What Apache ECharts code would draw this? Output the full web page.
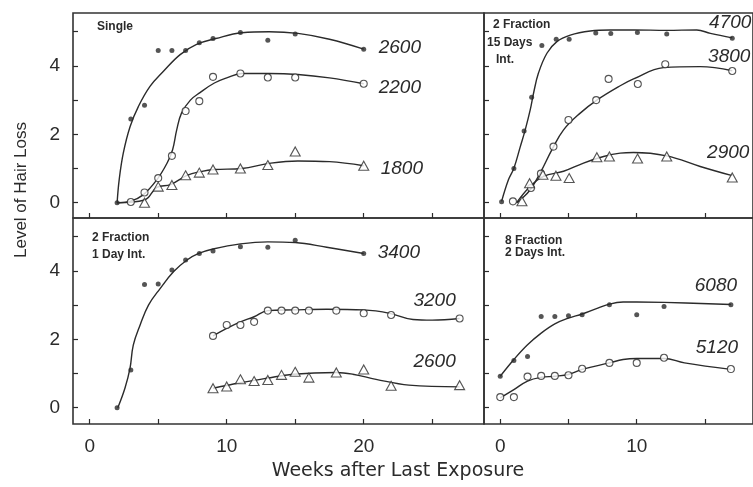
<!DOCTYPE html>
<html>
<head>
<meta charset="utf-8">
<title>Level of Hair Loss</title>
<script src="https://cdn.jsdelivr.net/npm/echarts@6/dist/echarts.min.js"></script>
<style>body{margin:0;background:#fff}</style>
</head>
<body>
<div id="main" style="width:753px;height:487px"></div>
<script>
// [weeks after last exposure, level of hair loss]
// Single
var single2600 = [[2,0],[3,2.45],[4,2.85],[5,4.45],[6,4.45],[7,4.45],[8,4.68],[9,4.8],[11,4.98],[13,4.75],[15,4.93],[20,4.49]];
var single2600Fit = [[2,0],[2.15,0.67],[2.45,1.45],[2.95,2.23],[3.55,2.81],[4.4,3.4],[5.4,3.85],[6.6,4.33],[7.8,4.63],[9.2,4.8],[11.1,4.97],[13.1,5.0],[15.2,4.95],[17.5,4.78],[20,4.49]];
var single2200 = [[3,0.02],[4,0.3],[5,0.72],[6,1.37],[7,2.68],[8,2.97],[9,3.68],[11,3.78],[13,3.66],[15,3.66],[20,3.48]];
var single2200Fit = [[2,0],[2.95,0.04],[3.9,0.23],[4.9,0.67],[5.65,1.16],[6.05,1.55],[6.35,2.13],[6.7,2.62],[7.35,3.0],[8.05,3.22],[9.1,3.5],[10,3.65],[11.1,3.78],[13.1,3.78],[15.2,3.75],[17.5,3.65],[20,3.48]];
var single1800 = [[4,0],[5,0.47],[6,0.52],[7,0.8],[8,0.88],[9,0.97],[11,1.0],[13,1.1],[15,1.5],[20,1.08]];
var single1800Fit = [[2,0],[4,0.08],[4.9,0.45],[5.9,0.53],[7.1,0.8],[8.1,0.91],[9.1,0.97],[11.1,1.0],[13.1,1.15],[15.2,1.22],[17.5,1.2],[20,1.08]];

// 2 fraction, 15 days interval
var frac15d4700 = [[0.1,0.03],[1,1.0],[1.75,2.1],[2.3,3.08],[3.05,4.6],[4.1,4.78],[5.05,4.78],[7,4.96],[8.1,4.95],[10.05,4.98],[12.2,4.93],[17,4.81]];
var frac15d4700Fit = [[0.1,0.04],[0.6,0.67],[1,1.01],[1.47,1.64],[1.83,2.13],[2.2,2.72],[2.44,3.2],[2.8,3.79],[3.42,4.37],[4.15,4.71],[5.13,4.9],[6.6,5.02],[8.06,5.05],[9.8,5.05],[12.2,5.04],[14.4,5.05],[15.4,4.95],[17,4.82]];
var frac15d3800 = [[0.93,0.04],[2.25,0.43],[2.98,0.85],[3.9,1.64],[5,2.42],[7.03,3.0],[7.94,3.62],[10.08,3.47],[12.09,4.05],[17,3.85]];
var frac15d3800Fit = [[1.2,0],[1.5,0.09],[2.2,0.38],[2.93,0.87],[3.79,1.55],[4.64,2.13],[5.86,2.62],[7.08,3.0],[8.79,3.42],[9.77,3.62],[11.96,3.95],[14.65,3.98],[17,3.86]];
var frac15d2900 = [[1.59,0.04],[2.15,0.57],[3.13,0.82],[4.08,0.79],[5.05,0.72],[7.08,1.33],[8.0,1.35],[10.06,1.29],[12.2,1.35],[17,0.74]];
var frac15d2900Fit = [[1.2,0],[2.2,0.48],[3.17,0.77],[4.64,0.92],[6.1,1.16],[7.57,1.35],[8.79,1.45],[9.77,1.47],[12.2,1.37],[14.65,1.06],[17,0.79]];

// 2 fraction, 1 day interval
var frac1d3400 = [[2,0],[3,1.1],[4,3.6],[5,3.62],[6,4.03],[7,4.32],[8,4.51],[9,4.58],[11,4.71],[13,4.69],[15,4.9],[20,4.51]];
var frac1d3400Fit = [[2.05,0],[2.57,0.57],[2.94,1.15],[3.18,1.83],[3.68,2.42],[4.29,3.0],[5.15,3.49],[6.13,3.98],[7.1,4.32],[7.96,4.51],[9,4.64],[11,4.79],[13,4.85],[15,4.83],[17.3,4.69],[20,4.51]];
var frac1d3200 = [[9,2.1],[10,2.42],[11,2.42],[12,2.51],[13,2.84],[14,2.84],[15,2.84],[16,2.84],[18,2.84],[20,2.76],[22,2.71],[27,2.61]];
var frac1d3200Fit = [[9,2.1],[10,2.32],[11,2.51],[12,2.66],[13,2.84],[14.85,2.86],[17.3,2.88],[20,2.86],[21.9,2.76],[23.6,2.58],[25,2.56],[27,2.61]];
var frac1d2600 = [[9,0.57],[10,0.62],[11,0.83],[12,0.78],[13,0.81],[14,0.96],[15,1.05],[16,0.88],[18,1.03],[20,1.12],[22,0.64],[27,0.66]];
var frac1d2600Fit = [[9,0.57],[11,0.73],[12.9,0.86],[14.85,0.98],[18,1.03],[19.2,0.98],[20.9,0.83],[23.3,0.66],[27,0.61]];

// 8 fraction, 2 days interval
var frac2d6080 = [[0,0.92],[1,1.38],[2,1.5],[3,2.67],[4,2.67],[5,2.69],[6,2.72],[8,3.01],[10,2.72],[12,2.96],[16.9,3.01]];
var frac2d6080Fit = [[0,0.92],[1,1.41],[2,1.84],[3,2.18],[4,2.45],[5,2.62],[6,2.74],[7,2.89],[8,3.03],[9,3.09],[10,3.09],[12,3.08],[16.9,3.02]];
var frac2d5120 = [[0,0.31],[1,0.31],[2,0.91],[3,0.93],[4,0.93],[5,0.95],[6,1.14],[8,1.31],[10,1.31],[12,1.46],[16.9,1.13]];
var frac2d5120Fit = [[0,0.29],[1,0.53],[2,0.78],[3,0.89],[4,0.92],[5,0.97],[6,1.12],[8,1.31],[9,1.41],[10,1.44],[12,1.44],[13.5,1.31],[16.9,1.12]];

var panelTitles = [['Single'], ['2 Fraction', '15 Days', 'Int.'], ['2 Fraction', '1 Day Int.'], ['8 Fraction', '2 Days Int.']];
var xTicksLeft = [0, 5, 10, 15, 20, 25];
var xTicksRight = [0, 5, 10, 15];
var xLabelsLeft = [0, 10, 20];
var xLabelsRight = [0, 10];
var yTicks = [0, 1, 2, 3, 4, 5];
var yLabels = [0, 2, 4];

var ink = '#2b2b2b';
var myChart = echarts.init(document.getElementById('main'));

var grids = [
	{left: 73, top: 13, width: 411, height: 205},
	{left: 484, top: 13, width: 270, height: 205},
	{left: 73, top: 218, width: 411, height: 206},
	{left: 484, top: 218, width: 270, height: 206}
];
var xRange = [[-1.22, 28.78], [-1.19, 18.52], [-1.22, 28.78], [-1.19, 18.52]];
var yRange = [[-0.447, 5.547], [-0.447, 5.547], [-0.476, 5.547], [-0.476, 5.547]];

var marks = {
	dot: {symbol: 'circle', size: 5, style: {color: ink}},
	ring: {symbol: 'circle', size: 7, style: {color: '#fff', borderColor: ink, borderWidth: 1.1}},
	tri: {symbol: 'triangle', size: [10, 9], style: {color: '#fff', borderColor: ink, borderWidth: 1.1}}
};

// label offsets from the curve end (pixels)
var curves = [
	{g: 0, fit: single2600Fit, pts: single2600, mark: 'dot', dose: '2600', dx: 15, dy: -1, align: 'left'},
	{g: 0, fit: single2200Fit, pts: single2200, mark: 'ring', dose: '2200', dx: 15, dy: 4, align: 'left'},
	{g: 0, fit: single1800Fit, pts: single1800, mark: 'tri', dose: '1800', dx: 17, dy: 3, align: 'left'},
	{g: 1, fit: frac15d4700Fit, pts: frac15d4700, mark: 'dot', dose: '4700', dx: -2, dy: -15, align: 'center'},
	{g: 1, fit: frac15d3800Fit, pts: frac15d3800, mark: 'ring', dose: '3800', dx: -3, dy: -14, align: 'center'},
	{g: 1, fit: frac15d2900Fit, pts: frac15d2900, mark: 'tri', dose: '2900', dx: -4, dy: -23, align: 'center'},
	{g: 2, fit: frac1d3400Fit, pts: frac1d3400, mark: 'dot', dose: '3400', dx: 14, dy: -1, align: 'left'},
	{g: 2, fit: frac1d3200Fit, pts: frac1d3200, mark: 'ring', dose: '3200', dx: -25, dy: -18, align: 'center'},
	{g: 2, fit: frac1d2600Fit, pts: frac1d2600, mark: 'tri', dose: '2600', dx: -25, dy: -25, align: 'center'},
	{g: 3, fit: frac2d6080Fit, pts: frac2d6080, mark: 'dot', dose: '6080', dx: -15, dy: -19, align: 'center'},
	{g: 3, fit: frac2d5120Fit, pts: frac2d5120, mark: 'ring', dose: '5120', dx: -14, dy: -22, align: 'center'}
];

var series = [];
curves.forEach(function (c) {
	series.push({
		type: 'line', xAxisIndex: c.g, yAxisIndex: c.g, data: c.fit,
		smooth: 0.4, showSymbol: false, silent: true, z: 2,
		lineStyle: {color: ink, width: 1.4}
	});
	series.push({
		type: 'scatter', xAxisIndex: c.g, yAxisIndex: c.g, data: c.pts,
		symbol: marks[c.mark].symbol, symbolSize: marks[c.mark].size,
		itemStyle: marks[c.mark].style, z: 3
	});
});

var xAxes = [], yAxes = [];
grids.forEach(function (g, i) {
	var isLeft = (i % 2 === 0), isBottom = (i >= 2);
	xAxes.push({
		type: 'value', gridIndex: i, min: xRange[i][0], max: xRange[i][1], position: 'bottom',
		axisLine: {show: false, onZero: false}, splitLine: {show: false},
		axisTick: {show: true, inside: true, length: 5, customValues: isLeft ? xTicksLeft : xTicksRight,
			lineStyle: {color: ink, width: 1.2}},
		axisLabel: {show: isBottom, customValues: isLeft ? xLabelsLeft : xLabelsRight, margin: 13,
			color: ink, fontSize: 19, fontFamily: 'Liberation Sans'}
	});
	yAxes.push({
		type: 'value', gridIndex: i, min: yRange[i][0], max: yRange[i][1], position: 'left',
		axisLine: {show: false, onZero: false}, splitLine: {show: false},
		axisTick: {show: true, inside: true, length: 5, customValues: yTicks,
			lineStyle: {color: ink, width: 1.2}},
		axisLabel: {show: isLeft, customValues: yLabels, margin: 13,
			color: ink, fontSize: 19, fontFamily: 'Liberation Sans'}
	});
});

var titlePos = [
	[[97, 27]],
	[[493, 25], [487, 43], [496, 60]],
	[[92, 238], [92, 255]],
	[[505, 241], [505, 253]]
];

function txt(x, y, s, font, align, extra) {
	var el = {
		type: 'text', x: x, y: y, z: 10, silent: true,
		style: {text: s, fill: ink, font: font, textAlign: align, align: align,
			textVerticalAlign: 'middle', verticalAlign: 'middle'}
	};
	for (var k in extra) el[k] = extra[k];
	return el;
}

var graphics = [];
panelTitles.forEach(function (lines, i) {
	lines.forEach(function (s, j) {
		graphics.push(txt(titlePos[i][j][0], titlePos[i][j][1], s, 'bold 12px "Liberation Sans"', 'left'));
	});
});
graphics.push(txt(398, 471, 'Weeks after Last Exposure', '19px "DejaVu Sans"', 'center'));
graphics.push(txt(21, 190, 'Level of Hair Loss', '17px "Liberation Sans"', 'center', {rotation: Math.PI / 2}));

var option = {
	backgroundColor: '#fff',
	animation: false,
	grid: grids.map(function (g) {
		return {left: g.left, top: g.top, width: g.width, height: g.height,
			show: true, borderColor: '#333', borderWidth: 1.6, backgroundColor: 'transparent'};
	}),
	xAxis: xAxes,
	yAxis: yAxes,
	series: series,
	graphic: graphics
};
myChart.setOption(option);

// dose labels placed next to the end of each fitted curve
curves.forEach(function (c) {
	var last = c.fit[c.fit.length - 1];
	var p = myChart.convertToPixel({xAxisIndex: c.g, yAxisIndex: c.g}, last);
	graphics.push(txt(p[0] + c.dx, p[1] + c.dy, c.dose, 'italic 19px "Liberation Sans"', c.align));
});
myChart.setOption({graphic: graphics});
</script>
</body>
</html>
